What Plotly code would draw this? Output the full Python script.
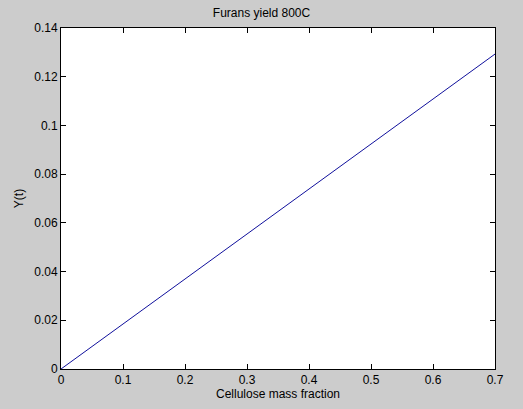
import plotly.graph_objects as go

# values
cellulose_fraction = [0.0, 0.1, 0.2, 0.3, 0.4, 0.5, 0.6, 0.7]
furans_yield = [0.0, 0.0185, 0.0370, 0.0555, 0.0741, 0.0925, 0.1110, 0.1293]

y_ticks = [0, 0.02, 0.04, 0.06, 0.08, 0.1, 0.12, 0.14]
y_tick_labels = ["0", "0.02", "0.04", "0.06", "0.08", "0.1", "0.12", "0.14"]
x_ticks = [0, 0.1, 0.2, 0.3, 0.4, 0.5, 0.6, 0.7]
x_tick_labels = ["0", "0.1", "0.2", "0.3", "0.4", "0.5", "0.6", "0.7"]

fig = go.Figure()
fig.add_scatter(x=cellulose_fraction, y=furans_yield, mode="lines",
                line=dict(color="#10109c", width=1), showlegend=False)

axis_style = dict(showgrid=False, zeroline=False, showline=True, linecolor="black",
                  linewidth=1, mirror="ticks", ticks="inside", ticklen=5,
                  tickcolor="black", tickfont=dict(size=12, color="black"),
                  automargin=False)

fig.update_xaxes(range=[0, 0.7], tickvals=x_ticks, ticktext=x_tick_labels,
                 title=dict(text="Cellulose mass fraction", standoff=2,
                            font=dict(size=12, color="black")), **axis_style)
fig.update_yaxes(range=[0, 0.14], tickvals=y_ticks, ticktext=y_tick_labels,
                 title=dict(text="Y(t)", standoff=8,
                            font=dict(size=12, color="black")), **axis_style)

fig.update_layout(
    width=523, height=409,
    margin=dict(l=61, r=28, t=28, b=40, autoexpand=False),
    paper_bgcolor="#cccccc", plot_bgcolor="white",
    font=dict(family="Liberation Sans, Arial, sans-serif", size=12, color="black"),
    title=dict(text="Furans yield 800C", x=0.5, xanchor="center",
               y=1 - 13 / 409, yanchor="middle", font=dict(size=12, color="black")),
)

# drop the browser's default page margin so the figure sits at the corner
fig.write_html("out.html", config={"displayModeBar": False},
               post_script="document.body.style.margin='0';"
                           "document.body.style.background='#cccccc';")
